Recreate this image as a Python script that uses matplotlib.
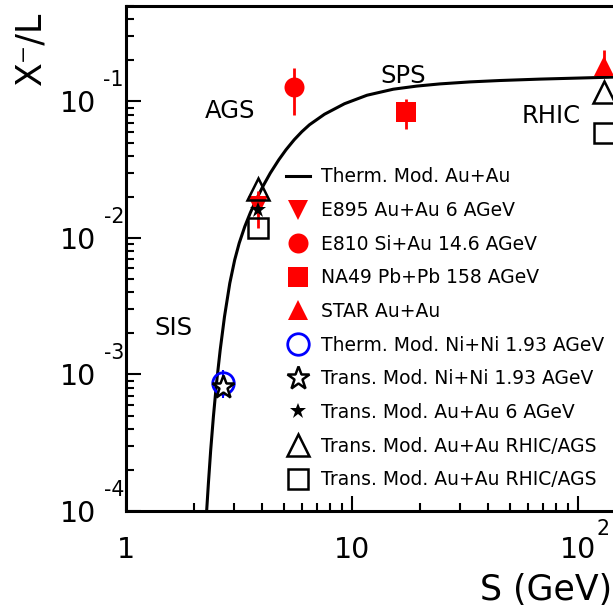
import matplotlib
matplotlib.use("Agg")
import matplotlib.pyplot as plt
from matplotlib.ticker import FixedLocator, FixedFormatter, LogLocator, NullFormatter

plt.rcParams['font.family'] = ['DejaVu Sans']

# ---------------- data ----------------
therm_x = [2.2757, 2.3152, 2.3703, 2.4363, 2.5144, 2.6110, 2.7280, 2.8793, 3.0268,
           3.1687, 3.3548, 3.5481, 3.7680, 4.0465, 4.3501, 4.7437, 5.1046, 5.5494,
           5.9962, 6.4856, 7.5565, 9.2642, 11.652, 15.23, 19.33, 24.51, 33.28,
           45.16, 67.90, 102.0, 142.8]
therm_y = [1.015e-4, 1.593e-4, 2.795e-4, 4.906e-4, 8.618e-4, 1.512e-3, 2.653e-3,
           4.662e-3, 6.909e-3, 9.160e-3, 1.2125e-2, 1.5276e-2, 1.903e-2, 2.4097e-2,
           2.987e-2, 3.737e-2, 4.4247e-2, 5.239e-2, 5.9961e-2, 6.748e-2, 8.056e-2,
           9.619e-2, 0.1110, 0.1229, 0.1295, 0.1344, 0.1390, 0.1423, 0.1457,
           0.1484, 0.1507]

e895_x = [3.84]; e895_y = [0.0170]; e895_err = [0.0052]
e810_x = [5.54]; e810_y = [0.127]; e810_err = [0.048]
na49_x = [17.3]; na49_y = [0.0836]; na49_err = [0.021]
star_x = [130.0]; star_y = [0.183]; star_err_lo = [0.02]; star_err_hi = [0.056]
thni_x = [2.68]; thni_y = [8.7e-4]; thni_err = [2.0e-4]
trni_x = [2.68]; trni_y = [8.1e-4]
trau6_x = [3.84]; trau6_y = [0.0161]
trtri_x = [3.84, 130.0]; trtri_y = [0.0230, 0.118]
trsq_x = [3.84, 130.0]; trsq_y = [0.0119, 0.0586]

labels = ["Therm. Mod. Au+Au", "E895 Au+Au 6 AGeV", "E810 Si+Au 14.6 AGeV",
          "NA49 Pb+Pb 158 AGeV", "STAR Au+Au", "Therm. Mod. Ni+Ni 1.93 AGeV",
          "Trans. Mod. Ni+Ni 1.93 AGeV", "Trans. Mod. Au+Au 6 AGeV",
          "Trans. Mod. Au+Au RHIC/AGS", "Trans. Mod. Au+Au RHIC/AGS"]

region_names = ["AGS", "SPS", "RHIC", "SIS"]
region_x = [2.236, 13.3, 56.3, 1.33]
region_y = [0.0760, 0.1371, 0.0698, 1.95e-3]

ytick_vals = [1e-4, 1e-3, 1e-2, 1e-1]
ytick_base = ["10", "10", "10", "10"]
ytick_exp = ["-4", "-3", "-2", "-1"]
xtick_vals = [1, 10, 100]
xtick_base = ["1", "10", "10"]
xtick_exp = ["", "", "2"]

# ---------------- figure ----------------
W, H = 613, 612
fig = plt.figure(figsize=(W / 100, H / 100), dpi=100)
ax = fig.add_axes([126 / W, (H - 511) / H, 520 / W, 505 / H])
ax.set_xscale('log')
ax.set_yscale('log')
ax.set_xlim(1, 200)
ax.set_ylim(1e-4, 0.5)

RED = '#ff0000'
BLUE = '#0000ff'

h_curve, = ax.plot(therm_x, therm_y, color='black', lw=2.2, zorder=2, label=labels[0],
                   solid_joinstyle='round')

# error bars
ax.errorbar(e895_x, e895_y, yerr=e895_err, fmt='none', ecolor=RED, elinewidth=2, capsize=0, zorder=3)
ax.errorbar(e810_x, e810_y, yerr=e810_err, fmt='none', ecolor=RED, elinewidth=2, capsize=0, zorder=3)
ax.errorbar(na49_x, na49_y, yerr=na49_err, fmt='none', ecolor=RED, elinewidth=2, capsize=0, zorder=3)
ax.errorbar(star_x, star_y, yerr=[star_err_lo, star_err_hi], fmt='none', ecolor=RED, elinewidth=2, capsize=0, zorder=3)
ax.errorbar(thni_x, thni_y, yerr=thni_err, fmt='none', ecolor=BLUE, elinewidth=1.5, capsize=0, zorder=3)

h1, = ax.plot(e895_x, e895_y, 'v', color=RED, ms=14.4, mew=0, zorder=4, label=labels[1])
h2, = ax.plot(e810_x, e810_y, 'o', color=RED, ms=14.4, mew=0, zorder=4, label=labels[2])
h3, = ax.plot(na49_x, na49_y, 's', color=RED, ms=14.6, mew=0, zorder=4, label=labels[3])
h4, = ax.plot(star_x, star_y, '^', color=RED, ms=14.4, mew=0, zorder=4, label=labels[4])
h5, = ax.plot(thni_x, thni_y, 'o', mfc='none', mec=BLUE, ms=15.5, mew=2.0, zorder=5, label=labels[5])
h6, = ax.plot(trni_x, trni_y, '*', mfc='white', mec='black', ms=17.4, mew=1.8, zorder=6, label=labels[6])
h7, = ax.plot(trau6_x, trau6_y, '*', color='black', ms=12.0, mew=0, zorder=6, label=labels[7])
h8, = ax.plot(trtri_x, trtri_y, '^', mfc='none', mec='black', ms=15.6, mew=1.8, zorder=6, label=labels[8])
h9, = ax.plot(trsq_x, trsq_y, 's', mfc='none', mec='black', ms=15.0, mew=1.8, zorder=6, label=labels[9])

for name, x, y in zip(region_names, region_x, region_y):
    ax.text(x, y, name, fontsize=17.5, ha='left', va='baseline', color='black')

# axes styling
for s in ['left', 'bottom', 'top']:
    ax.spines[s].set_linewidth(2.2)
ax.spines['right'].set_visible(False)

ax.xaxis.set_major_locator(FixedLocator(xtick_vals))
ax.xaxis.set_major_formatter(FixedFormatter(xtick_base))
ax.yaxis.set_major_locator(FixedLocator(ytick_vals))
ax.yaxis.set_major_formatter(FixedFormatter(ytick_base))
ax.xaxis.set_minor_locator(LogLocator(base=10, subs=range(2, 10), numticks=50))
ax.yaxis.set_minor_locator(LogLocator(base=10, subs=range(2, 10), numticks=50))
ax.xaxis.set_minor_formatter(NullFormatter())
ax.yaxis.set_minor_formatter(NullFormatter())

ax.tick_params(which='both', direction='in', top=False, right=False, width=1.5, color='black')
ax.tick_params(which='major', length=10.8, labelsize=20.5)
ax.tick_params(which='minor', length=5.8)
ax.tick_params(axis='y', which='major', pad=21.5)
ax.tick_params(axis='x', which='major', pad=18.2)

for v, e in zip(ytick_vals, ytick_exp):
    ax.annotate(e, xy=(0, v), xycoords=('axes fraction', 'data'), xytext=(-1.5, 10.8),
                textcoords='offset points', ha='right', va='baseline', fontsize=14.8,
                annotation_clip=False)
for v, e in zip(xtick_vals, xtick_exp):
    if e:
        ax.annotate(e, xy=(v, 0), xycoords=('data', 'axes fraction'), xytext=(13.6, -17.3),
                    textcoords='offset points', ha='left', va='baseline', fontsize=14.8,
                    annotation_clip=False)

ax.set_xlabel("S (GeV)", fontsize=25, ha='right', va='baseline')
ax.xaxis.set_label_coords((612 - 126) / 520, (511 - 600) / 505)
ax.set_ylabel("X\u207b/L", fontsize=25, ha='right', va='baseline', rotation=90,
              rotation_mode='anchor')
ax.yaxis.set_label_coords((40 - 126) / 520, (511 - 12) / 505)

leg = ax.legend(handles=[h_curve, h1, h2, h3, h4, h5, h6, h7, h8, h9],
                labels=labels, loc='upper left',
                bbox_to_anchor=(286 / W, (H - 167.5) / H), bbox_transform=fig.transFigure,
                frameon=False, fontsize=13.5, handlelength=1.3, handletextpad=0.55,
                labelspacing=0.78, borderpad=0, borderaxespad=0, numpoints=1)

fig.savefig("out.png", dpi=100)
